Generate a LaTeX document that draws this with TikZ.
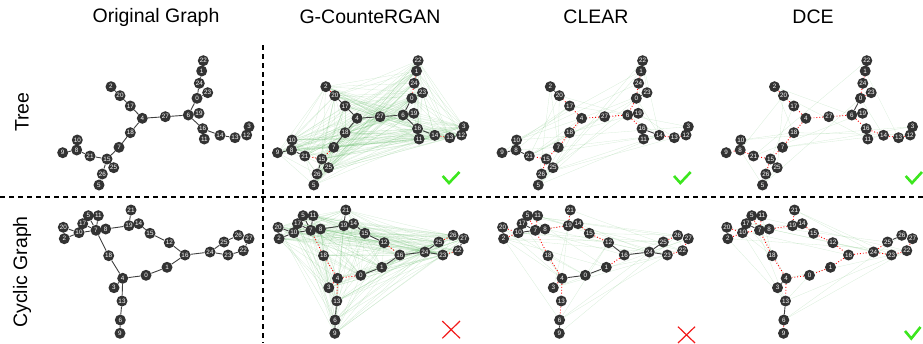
\documentclass[tikz,border=0pt]{standalone}
\usepackage{fontspec}
\setmainfont{Liberation Sans}
\usetikzlibrary{backgrounds}

\definecolor{vtxgray}{HTML}{333333}
\definecolor{edgegray}{HTML}{404040}
\definecolor{ghostgreen}{HTML}{4CAF50}
\definecolor{tickgreen}{HTML}{3CE61E}
\definecolor{crossred}{HTML}{F21B1B}

\tikzset{
	vtx/.style={circle,fill=vtxgray,text=white,inner sep=0pt,minimum size=11pt,font=\fontsize{6.3}{6.3}\selectfont},
	keep/.style={draw=edgegray,line width=0.9pt},
	cut/.style={draw=red,dotted,line width=0.9pt},
	ghost/.style={draw=ghostgreen,line width=0.3pt,opacity=0.22},
	sep/.style={dash pattern=on 5pt off 4pt,line width=1.6pt},
	title/.style={font=\fontsize{19.5}{19.5}\selectfont},
	tick/.style={draw=tickgreen,line width=2.6pt},
	cross/.style={draw=crossred,line width=1.2pt},
}

% vertex name/x/y, tree and cyclic graph
\def\treepos{22/203.3/60.7, 1/201.7/71, 24/199.3/83.3, 23/207.7/92.7, 0/197/98.3, 6/188.3/115, 19/199/113.3, 27/165.3/116.7, 4/142.3/118.3, 17/130.3/106, 20/120/95.7, 2/111/86.7, 18/130.3/132.7, 7/119/147.3, 15/107/159, 25/113.7/167.7, 26/102.3/174, 5/99/185, 21/90/156, 8/76.7/150, 10/77.3/140, 9/62.7/152.7, 16/202.7/128.7, 11/204.3/139, 14/220/135.3, 13/235/137.7, 3/249/126.7, 12/246.7/135}
\def\cycpos{21/131/210, 19/129/225.7, 14/138.7/223.7, 15/150/233.3, 12/169.3/242.7, 16/185/255, 1/167/267.3, 0/146/275.3, 4/122.7/278.3, 3/114/287.7, 13/122/301, 6/120.3/320, 9/120/333.3, 18/108.7/255.7, 7/96/230.3, 8/105.7/229, 5/88.3/215.7, 11/98.3/215.7, 17/82.7/223.7, 10/79/232.7, 20/63.3/227.3, 2/64.3/238.7, 24/210/252, 25/224/242, 26/238.3/235.3, 27/249/238.7, 22/243.3/250.7, 23/228/255}

% edge a/b, then its style in G-CounteRGAN/CLEAR/DCE
\def\treeedges{22/1/keep/keep/keep, 1/24/cut/cut/cut, 24/0/cut/cut/cut, 0/23/keep/keep/cut, 0/6/keep/cut/keep, 6/19/keep/keep/keep, 6/27/keep/cut/cut, 27/4/keep/cut/cut, 4/17/keep/cut/cut, 17/20/keep/cut/cut, 20/2/cut/keep/cut, 4/18/keep/cut/cut, 18/7/keep/cut/cut, 7/15/cut/cut/cut, 15/25/keep/keep/keep, 15/26/keep/cut/cut, 26/5/keep/keep/keep, 15/21/cut/cut/cut, 21/8/keep/keep/cut, 8/10/keep/keep/keep, 8/9/keep/keep/cut, 6/16/keep/cut/cut, 16/11/keep/keep/keep, 16/14/keep/keep/cut, 14/13/cut/cut/cut, 13/12/keep/cut/cut, 12/3/keep/keep/keep}
\def\cycedges{20/10/keep/cut/cut, 2/10/keep/cut/cut, 10/7/keep/keep/cut, 17/7/keep/keep/keep, 5/7/keep/cut/cut, 11/7/keep/cut/cut, 7/8/keep/keep/cut, 8/19/keep/cut/cut, 19/21/keep/cut/cut, 19/14/keep/cut/cut, 14/15/keep/cut/cut, 15/12/keep/cut/cut, 12/16/cut/keep/cut, 16/1/keep/cut/cut, 1/0/keep/keep/cut, 0/4/cut/keep/cut, 4/3/cut/cut/keep, 4/13/cut/cut/cut, 13/6/keep/cut/keep, 6/9/keep/keep/cut, 4/18/cut/cut/cut, 18/7/cut/cut/cut, 16/24/keep/keep/cut, 24/25/keep/keep/cut, 25/26/cut/cut/keep, 26/27/keep/keep/keep, 27/22/keep/cut/cut, 22/23/cut/cut/cut, 23/24/keep/keep/cut}

\newcommand\ghostedges[3]{%
	\pgfmathsetseed{#3}
	\foreach \i in {0,...,26}{
		\pgfmathtruncatemacro\inext{\i+1}
		\foreach \j in {\inext,...,27}{
			\pgfmathtruncatemacro\hit{rnd<#2}
			\ifnum\hit=1 \draw[ghost] (#1\i) -- (#1\j); \fi
		}
	}
}

\begin{document}
\begin{tikzpicture}[x=1pt,y=-1pt]
	\useasboundingbox (0,0) rectangle (923,343);

	\node[title] (hOrig) at (156,17) {Original Graph};
	\node[title] (hGan) at (370,17) {G-CounteRGAN};
	\node[title] (hClear) at (596,17) {CLEAR};
	\node[title] (hDce) at (813,17) {DCE};
	\node[title,rotate=90] (rTree) at (22,112) {Tree};
	\node[title,rotate=90] (rCyc) at (22,272) {Cyclic Graph};

	\draw[sep] (0,197) -- (923,197);
	\draw[sep] (263,45) -- (263,343);

	\foreach \p/\dx in {ta/0, tb/214.8, tc/439.3, td/663.5}
		\foreach \n/\x/\y in \treepos
			\node[vtx] (\p\n) at (\x+\dx,\y) {\n};
	\foreach \p/\dx in {ca/0, cb/214.8, cc/439.3, cd/663.5}
		\foreach \n/\x/\y in \cycpos
			\node[vtx] (\p\n) at (\x+\dx,\y) {\n};

	\begin{scope}[on background layer]
		\ghostedges{tb}{0.6}{11}
		\ghostedges{tc}{0.08}{23}
		\ghostedges{td}{0.05}{37}
		\ghostedges{cb}{0.6}{41}
		\ghostedges{cc}{0.1}{53}
		\ghostedges{cd}{0.06}{67}
		\foreach \a/\b/\g/\c/\d in \treeedges{
			\draw[keep] (ta\a) -- (ta\b);
			\draw[\g] (tb\a) -- (tb\b);
			\draw[\c] (tc\a) -- (tc\b);
			\draw[\d] (td\a) -- (td\b);
		}
		\foreach \a/\b/\g/\c/\d in \cycedges{
			\draw[keep] (ca\a) -- (ca\b);
			\draw[\g] (cb\a) -- (cb\b);
			\draw[\c] (cc\a) -- (cc\b);
			\draw[\d] (cd\a) -- (cd\b);
		}
	\end{scope}

	\draw[tick] (442.7,176) -- (449,183) -- (459.5,172);
	\draw[tick] (674,176) -- (680.3,183) -- (690.7,172);
	\draw[tick] (905.7,176) -- (912,183) -- (922,172);
	\draw[tick] (905,331) -- (911.3,338.5) -- (920.5,327);
	\draw[cross] (442.3,321) -- (460,338.3) (442.3,338.3) -- (460,321);
	\draw[cross] (678,326.7) -- (695,343) (678,343) -- (695,326.7);
\end{tikzpicture}
\end{document}
